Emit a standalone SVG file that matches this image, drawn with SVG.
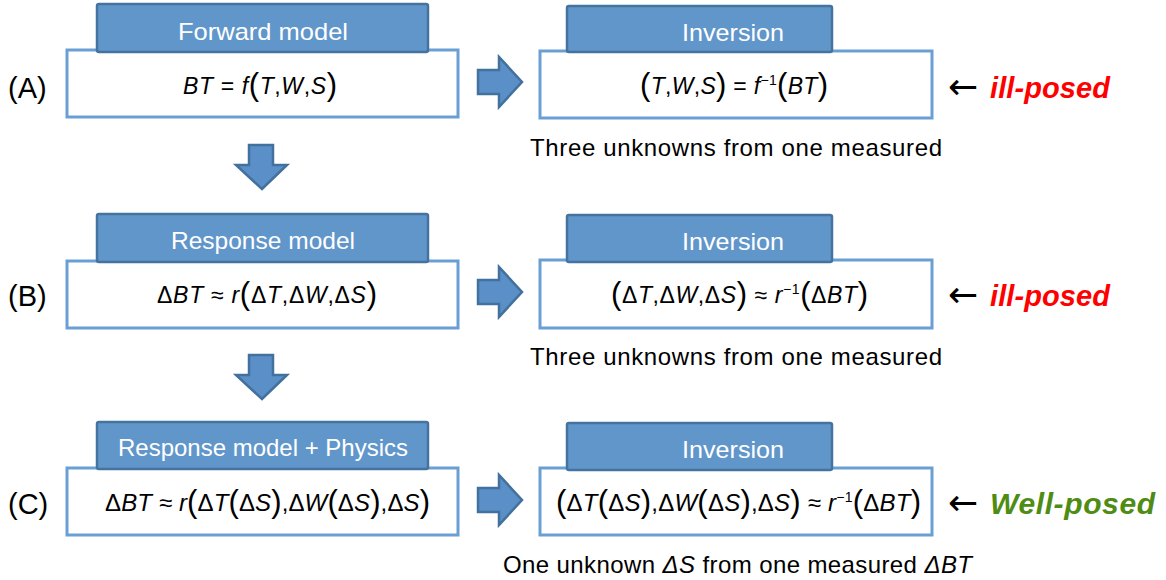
<svg xmlns="http://www.w3.org/2000/svg" width="1166" height="580" viewBox="0 0 1166 580">
  <style>
    .card { fill: #ffffff; stroke: #6a9fd6; stroke-width: 3; }
    .head { fill: #6196ca; stroke: #44739f; stroke-width: 2.5; }
    .headtxt { font-family: "Liberation Sans", Arial, sans-serif; font-size: 24px; fill: #ffffff; text-anchor: middle; }
    .eq { font-family: "Liberation Sans", Arial, sans-serif; font-size: 23px; fill: #000000; }
    .v { font-style: italic; }
    .p { font-size: 31px; }
    .sup { font-size: 14px; }
    .row { font-family: "Liberation Sans", Arial, sans-serif; font-size: 29px; fill: #000000; }
    .note { font-family: "Liberation Sans", Arial, sans-serif; font-size: 24px; fill: #000000; }
    .larr { font-family: "DejaVu Sans", sans-serif; font-size: 36px; fill: #000000; }
    .bad { font-family: "Liberation Sans", Arial, sans-serif; font-size: 29px; font-weight: bold; font-style: italic; fill: #ff0000; }
    .good { font-family: "Liberation Sans", Arial, sans-serif; font-size: 30px; font-weight: bold; font-style: italic; fill: #4e8c13; }
    .blk { fill: #5b8fc8; stroke: #41719c; stroke-width: 2.5; stroke-linejoin: miter; }
  </style>
  <defs>
    <path id="rightArrow" d="M478,70 H499 V57 L522,82 L499,107 V94 H478 Z"/>
    <path id="downArrow" d="M249,145 H273 V165 H287 L262,189 L236,165 H249 Z"/>
  </defs>

  <!-- row labels -->
  <text class="row" x="8" y="98">(A)</text>
  <text class="row" x="8" y="306">(B)</text>
  <text class="row" x="8" y="514">(C)</text>

  <!-- Row A -->
  <g id="forward-model">
    <rect class="card" x="67" y="50" width="391" height="67"/>
    <rect class="head" x="97" y="4" width="331" height="48" rx="2"/>
    <text class="headtxt" x="263" y="40" textLength="170" lengthAdjust="spacingAndGlyphs">Forward model</text>
    <text class="eq" x="183" y="94" textLength="154"><tspan class="v">BT</tspan> = <tspan class="v">f</tspan><tspan class="p" dy="1">(</tspan><tspan class="v" dy="-1">T</tspan>,<tspan class="v">W</tspan>,<tspan class="v">S</tspan><tspan class="p" dy="1">)</tspan></text>
  </g>
  <g id="inversion-a">
    <rect class="card" x="540" y="51" width="392" height="67"/>
    <rect class="head" x="567" y="6" width="265" height="46" rx="2"/>
    <text class="headtxt" x="733" y="41" textLength="102" lengthAdjust="spacingAndGlyphs">Inversion</text>
    <text class="eq" x="640" y="94" textLength="188"><tspan class="p" dy="1">(</tspan><tspan class="v" dy="-1">T</tspan>,<tspan class="v">W</tspan>,<tspan class="v">S</tspan><tspan class="p" dy="1">)</tspan><tspan dy="-1"> = </tspan><tspan class="v">f</tspan><tspan class="sup" dy="-9">−1</tspan><tspan class="p" dy="10">(</tspan><tspan class="v" dy="-1">BT</tspan><tspan class="p" dy="1">)</tspan></text>
  </g>
  <g id="status-a">
    <text class="larr" x="948" y="99">←</text>
    <text class="bad" x="990" y="98" textLength="120">ill-posed</text>
  </g>
  <text class="note" x="530" y="156" textLength="412">Three unknowns from one measured</text>

  <!-- Row B -->
  <g id="response-model">
    <rect class="card" x="67" y="261" width="391" height="67"/>
    <rect class="head" x="97" y="214" width="331" height="48" rx="2"/>
    <text class="headtxt" x="263" y="249" textLength="184" lengthAdjust="spacingAndGlyphs">Response model</text>
    <text class="eq" x="157" y="303" textLength="220">Δ<tspan class="v">BT</tspan> ≈ <tspan class="v">r</tspan><tspan class="p" dy="1">(</tspan><tspan dy="-1">Δ</tspan><tspan class="v">T</tspan>,Δ<tspan class="v">W</tspan>,Δ<tspan class="v">S</tspan><tspan class="p" dy="1">)</tspan></text>
  </g>
  <g id="inversion-b">
    <rect class="card" x="540" y="260" width="392" height="68"/>
    <rect class="head" x="567" y="215" width="265" height="47" rx="2"/>
    <text class="headtxt" x="733" y="250" textLength="102" lengthAdjust="spacingAndGlyphs">Inversion</text>
    <text class="eq" x="611" y="303" textLength="257"><tspan class="p" dy="1">(</tspan><tspan dy="-1">Δ</tspan><tspan class="v">T</tspan>,Δ<tspan class="v">W</tspan>,Δ<tspan class="v">S</tspan><tspan class="p" dy="1">)</tspan><tspan dy="-1"> ≈ </tspan><tspan class="v">r</tspan><tspan class="sup" dy="-9">−1</tspan><tspan class="p" dy="10">(</tspan><tspan dy="-1">Δ</tspan><tspan class="v">BT</tspan><tspan class="p" dy="1">)</tspan></text>
  </g>
  <g id="status-b">
    <text class="larr" x="948" y="307">←</text>
    <text class="bad" x="990" y="306" textLength="120">ill-posed</text>
  </g>
  <text class="note" x="530" y="365" textLength="412">Three unknowns from one measured</text>

  <!-- Row C -->
  <g id="response-physics">
    <rect class="card" x="67" y="468" width="391" height="67"/>
    <rect class="head" x="97" y="422" width="331" height="47" rx="2"/>
    <text class="headtxt" x="263" y="456" textLength="290" lengthAdjust="spacingAndGlyphs">Response model + Physics</text>
    <text class="eq" x="105" y="511" textLength="325" style="font-size:24px">Δ<tspan class="v">BT</tspan> ≈ <tspan class="v">r</tspan><tspan class="p" dy="1">(</tspan><tspan dy="-1">Δ</tspan><tspan class="v">T</tspan><tspan class="p" dy="1">(</tspan><tspan dy="-1">Δ</tspan><tspan class="v">S</tspan><tspan class="p" dy="1">)</tspan><tspan dy="-1">,Δ</tspan><tspan class="v">W</tspan><tspan class="p" dy="1">(</tspan><tspan dy="-1">Δ</tspan><tspan class="v">S</tspan><tspan class="p" dy="1">)</tspan><tspan dy="-1">,Δ</tspan><tspan class="v">S</tspan><tspan class="p" dy="1">)</tspan></text>
  </g>
  <g id="inversion-c">
    <rect class="card" x="540" y="468" width="392" height="67"/>
    <rect class="head" x="567" y="423" width="265" height="47" rx="2"/>
    <text class="headtxt" x="733" y="458" textLength="102" lengthAdjust="spacingAndGlyphs">Inversion</text>
    <text class="eq" x="556" y="511" textLength="365" style="font-size:24px"><tspan class="p" dy="1">(</tspan><tspan dy="-1">Δ</tspan><tspan class="v">T</tspan><tspan class="p" dy="1">(</tspan><tspan dy="-1">Δ</tspan><tspan class="v">S</tspan><tspan class="p" dy="1">)</tspan><tspan dy="-1">,Δ</tspan><tspan class="v">W</tspan><tspan class="p" dy="1">(</tspan><tspan dy="-1">Δ</tspan><tspan class="v">S</tspan><tspan class="p" dy="1">)</tspan><tspan dy="-1">,Δ</tspan><tspan class="v">S</tspan><tspan class="p" dy="1">)</tspan><tspan dy="-1"> ≈ </tspan><tspan class="v">r</tspan><tspan class="sup" dy="-9">−1</tspan><tspan class="p" dy="10">(</tspan><tspan dy="-1">Δ</tspan><tspan class="v">BT</tspan><tspan class="p" dy="1">)</tspan></text>
  </g>
  <g id="status-c">
    <text class="larr" x="948" y="515">←</text>
    <text class="good" x="990" y="514" textLength="165">Well-posed</text>
  </g>
  <text class="note" x="503" y="573" textLength="469">One unknown <tspan class="v">ΔS</tspan> from one measured <tspan class="v">ΔBT</tspan></text>

  <!-- block arrows -->
  <g id="connectors">
    <use href="#rightArrow" class="blk"/>
    <use href="#rightArrow" class="blk" y="210"/>
    <use href="#rightArrow" class="blk" y="418"/>
    <use href="#downArrow" class="blk"/>
    <use href="#downArrow" class="blk" y="210"/>
  </g>
</svg>
